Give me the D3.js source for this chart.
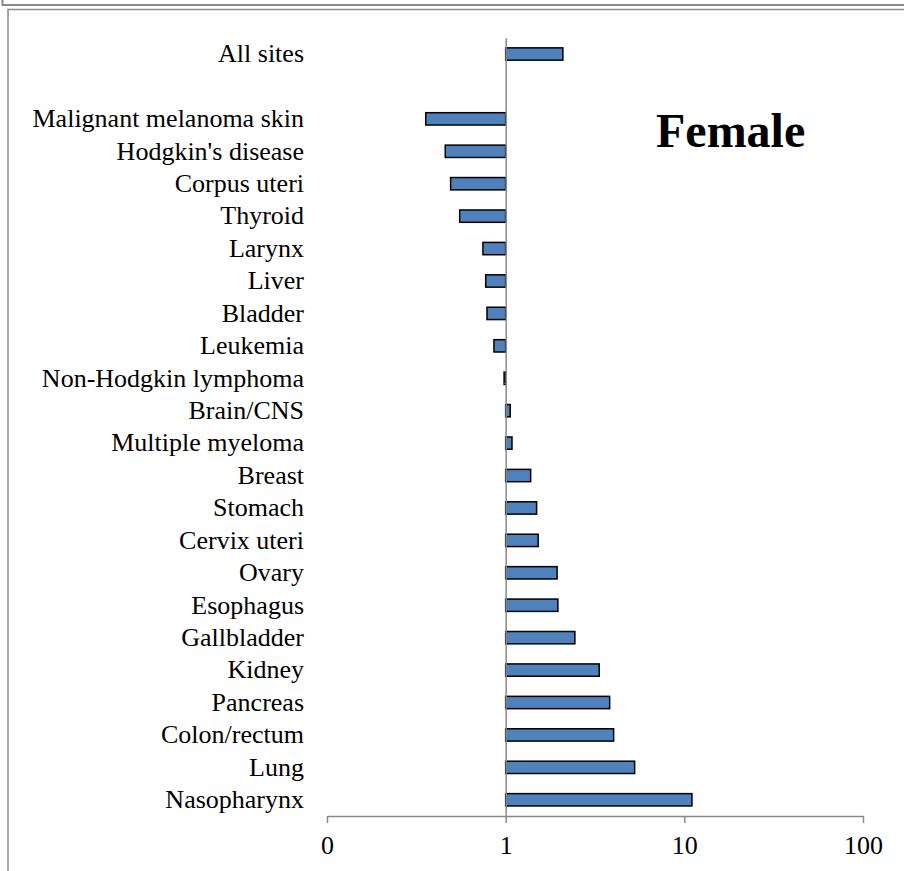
<!DOCTYPE html>
<html>
<head>
<meta charset="utf-8">
<script src="https://cdn.jsdelivr.net/npm/d3@7"></script>
<style>
  html, body { margin: 0; padding: 0; background: #fff; }
  svg { display: block; }
</style>
</head>
<body>
<svg id="chart" width="904" height="871"></svg>
<script>
// Cancer sites (female), with one empty row under "All sites"
const categories = [
  "All sites", "",
  "Malignant melanoma skin", "Hodgkin's disease", "Corpus uteri", "Thyroid",
  "Larynx", "Liver", "Bladder", "Leukemia", "Non-Hodgkin lymphoma",
  "Brain/CNS", "Multiple myeloma", "Breast", "Stomach", "Cervix uteri",
  "Ovary", "Esophagus", "Gallbladder", "Kidney", "Pancreas",
  "Colon/rectum", "Lung", "Nasopharynx"
];
// Ratio per site (log scale, bars grow from 1)
const values = [
  2.09, null,
  0.357, 0.459, 0.492, 0.553,
  0.746, 0.773, 0.786, 0.86, 0.98,
  1.06, 1.085, 1.38, 1.49, 1.52,
  1.94, 1.96, 2.44, 3.34, 3.82,
  4.02, 5.27, 11.03
];
const tickValues = [0.1, 1, 10, 100];
const tickLabels = ["0", "1", "10", "100"];
const title = "Female";

const svg = d3.select("#chart");
const frameColor = "#8a8a8a";
const font = "'Liberation Serif', 'Times New Roman', serif";

// Surrounding frames
svg.append("path")
  .attr("d", "M2.5,0 V5 H904")
  .attr("fill", "none").attr("stroke", frameColor).attr("stroke-width", 2);
svg.append("path")
  .attr("d", "M8,871 V9.5 H904")
  .attr("fill", "none").attr("stroke", frameColor).attr("stroke-width", 1.5);

const x = d3.scaleLog().domain([0.1, 100]).range([327, 863]);
const y = d3.scaleBand().domain(categories).range([37.8, 816])
  .paddingInner(0.62).paddingOuter(0.31);

const rows = categories.map((c, i) => ({ c, v: values[i] })).filter(d => d.v != null);

// Bars
svg.append("g").selectAll("rect").data(rows).join("rect")
  .attr("x", d => Math.min(x(d.v), x(1)))
  .attr("width", d => Math.abs(x(d.v) - x(1)))
  .attr("y", d => y(d.c))
  .attr("height", y.bandwidth())
  .attr("fill", "#4F81BD")
  .attr("stroke", "#000")
  .attr("stroke-width", 1.5);

// Bottom axis
const xAxis = d3.axisBottom(x)
  .tickValues(tickValues)
  .tickFormat((d, i) => tickLabels[i])
  .tickSize(7).tickSizeOuter(0).tickPadding(13);
const gx = svg.append("g").attr("transform", "translate(0,816)").call(xAxis);
gx.select(".domain").attr("stroke", frameColor).attr("stroke-width", 1.5);
gx.selectAll(".tick line").attr("stroke", frameColor).attr("stroke-width", 1.5);
gx.selectAll(".tick text")
  .attr("fill", "#000")
  .style("font-family", font).style("font-size", "26px");

// Category axis at x = 1
const yAxis = d3.axisLeft(y).tickSize(0).tickSizeOuter(0)
  .tickPadding(x(1) - 304);
const gy = svg.append("g").attr("transform", `translate(${x(1)},0)`).call(yAxis);
gy.select(".domain").attr("stroke", frameColor).attr("stroke-width", 1.5);
gy.selectAll(".tick text")
  .attr("fill", "#000")
  .style("font-family", font).style("font-size", "26px");

// Title
svg.append("text")
  .attr("x", 656).attr("y", 147)
  .style("font-family", font).style("font-size", "48px").style("font-weight", "bold")
  .text(title);
</script>
</body>
</html>
